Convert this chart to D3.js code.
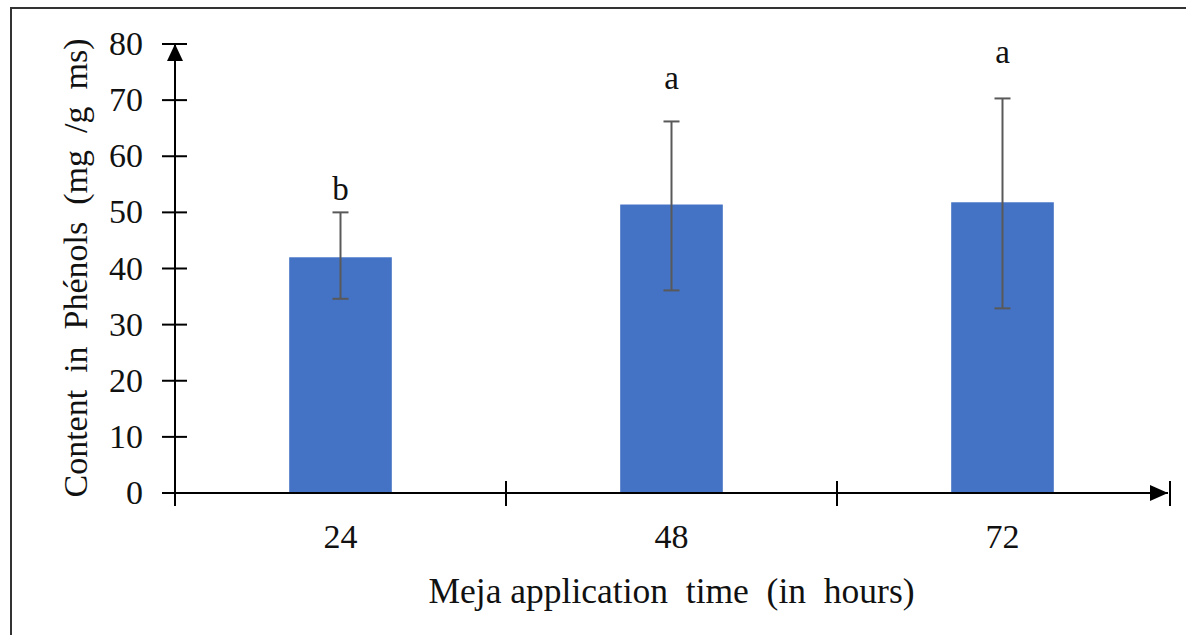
<!doctype html>
<html>
<head>
  <meta charset="utf-8">
  <title>Phenols content</title>
  <script src="https://d3js.org/d3.v7.min.js"></script>
  <style>
    body { margin: 0; background: #fff; }
    svg { display: block; }
    text { font-family: "Liberation Serif", "Times New Roman", serif; fill: #111; }
  </style>
</head>
<body>
  <div id="chart"></div>
  <script>
    // data
    var hours = ["24", "48", "72"];
    var phenols = [42.0, 51.4, 51.8];
    var errHigh = [50.0, 66.2, 70.3];
    var errLow = [34.6, 36.1, 32.9];
    var groups = ["b", "a", "a"];
    var groupAt = [52.2, 72.0, 76.6]; // where the letters sit (y value)
    var yTicks = [0, 10, 20, 30, 40, 50, 60, 70, 80];

    var width = 1186, height = 635;

    var svg = d3.select("#chart").append("svg")
      .attr("width", width)
      .attr("height", height);

    // frame around the picture
    svg.append("path")
      .attr("d", "M11," + height + "V8H" + width)
      .attr("fill", "none")
      .attr("stroke", "#333")
      .attr("stroke-width", 2);

    var x = d3.scaleBand().domain(hours).range([175, 1168]).padding(0);
    var y = d3.scaleLinear().domain([0, 80]).range([493, 44]);
    var barW = x.bandwidth() * 0.31;

    // bars
    svg.selectAll("rect.bar")
      .data(hours)
      .enter()
      .append("rect")
      .attr("class", "bar")
      .attr("x", function(d) { return x(d) + x.bandwidth() / 2 - barW / 2; })
      .attr("width", barW)
      .attr("y", function(d, i) { return y(phenols[i]); })
      .attr("height", function(d, i) { return y(0) - y(phenols[i]); })
      .attr("fill", "#4472C4");

    // error bars
    var err = svg.selectAll("g.err")
      .data(hours)
      .enter()
      .append("g")
      .attr("class", "err")
      .attr("stroke", "#595959")
      .attr("stroke-width", 2);
    err.append("line")
      .attr("x1", function(d) { return x(d) + x.bandwidth() / 2; })
      .attr("x2", function(d) { return x(d) + x.bandwidth() / 2; })
      .attr("y1", function(d, i) { return y(errHigh[i]); })
      .attr("y2", function(d, i) { return y(errLow[i]); });
    [errHigh, errLow].forEach(function(arr) {
      err.append("line")
        .attr("x1", function(d) { return x(d) + x.bandwidth() / 2 - 8; })
        .attr("x2", function(d) { return x(d) + x.bandwidth() / 2 + 8; })
        .attr("y1", function(d, i) { return y(arr[i]); })
        .attr("y2", function(d, i) { return y(arr[i]); });
    });

    // significance letters
    svg.selectAll("text.grp")
      .data(hours)
      .enter()
      .append("text")
      .attr("class", "grp")
      .attr("x", function(d) { return x(d) + x.bandwidth() / 2; })
      .attr("y", function(d, i) { return y(groupAt[i]); })
      .attr("text-anchor", "middle")
      .style("font-size", "33px")
      .text(function(d, i) { return groups[i]; });

    // y axis
    var ax = svg.append("g").attr("stroke", "#000").attr("stroke-width", 2);
    ax.append("line")
      .attr("x1", 175).attr("x2", 175)
      .attr("y1", y(0) + 13).attr("y2", y(80));
    ax.selectAll("line.yt")
      .data(yTicks)
      .enter()
      .append("line")
      .attr("class", "yt")
      .attr("x1", 162).attr("x2", 187)
      .attr("y1", function(d) { return y(d); })
      .attr("y2", function(d) { return y(d); });
    svg.append("path")
      .attr("d", "M175," + y(80) + "L183," + (y(80) + 17) + "L167," + (y(80) + 17) + "Z")
      .attr("fill", "#000");

    svg.selectAll("text.ytl")
      .data(yTicks)
      .enter()
      .append("text")
      .attr("class", "ytl")
      .attr("x", 143)
      .attr("y", function(d) { return y(d) + 11; })
      .attr("text-anchor", "end")
      .style("font-size", "34px")
      .text(function(d) { return d; });

    // x axis
    ax.append("line")
      .attr("x1", 162).attr("x2", 1168)
      .attr("y1", y(0)).attr("y2", y(0));
    var bounds = hours.slice(1).map(function(d) { return x(d); }).concat([x.range()[1] + 2]);
    ax.selectAll("line.xt")
      .data(bounds)
      .enter()
      .append("line")
      .attr("class", "xt")
      .attr("x1", function(d) { return d; })
      .attr("x2", function(d) { return d; })
      .attr("y1", y(0) - 12).attr("y2", y(0) + 13);
    svg.append("path")
      .attr("d", "M1168," + y(0) + "L1150," + (y(0) - 8) + "L1150," + (y(0) + 8) + "Z")
      .attr("fill", "#000");

    svg.selectAll("text.xtl")
      .data(hours)
      .enter()
      .append("text")
      .attr("class", "xtl")
      .attr("x", function(d) { return x(d) + x.bandwidth() / 2; })
      .attr("y", 548)
      .attr("text-anchor", "middle")
      .style("font-size", "34px")
      .text(function(d) { return d; });

    // axis titles
    svg.append("text")
      .attr("x", (x.range()[0] + x.range()[1]) / 2)
      .attr("y", 603)
      .attr("text-anchor", "middle")
      .style("font-size", "35.5px")
      .style("white-space", "pre")
      .text("Meja application  time  (in  hours)");

    svg.append("text")
      .attr("transform", "translate(87,268) rotate(-90)")
      .attr("text-anchor", "middle")
      .style("font-size", "34px")
      .style("white-space", "pre")
      .text("Content  in  Phénols  (mg  /g  ms)");
  </script>
</body>
</html>
